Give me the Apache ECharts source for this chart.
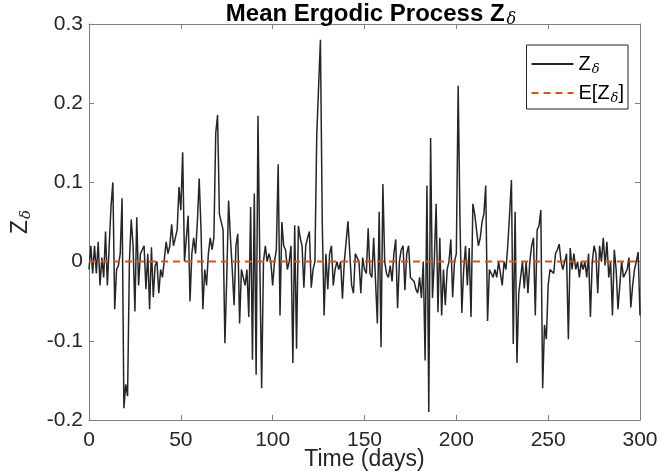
<!DOCTYPE html>
<html>
<head>
<meta charset="utf-8">
<script src="https://cdn.jsdelivr.net/npm/echarts@6/dist/echarts.min.js"></script>
<style>html,body{margin:0;padding:0;background:#fff;}#c{width:657px;height:471px;}</style>
</head>
<body>
<div id="c"></div>
<script>
const zValues = [
-0.01,0.02,-0.015,0.02,-0.015,0.025,-0.03,0.005,-0.02,0.038,
-0.03,0.02,0.07,0.1,-0.06,-0.01,-0.005,0.01,0.08,-0.185,
-0.155,-0.17,0.0,0.053,0.02,-0.063,0.056,-0.03,0.01,0.015,
0.02,-0.035,0.01,-0.06,0.018,-0.045,-0.005,0.0,-0.04,-0.01,
-0.02,-0.02,0.025,0.01,0.02,0.047,0.02,0.03,0.04,0.094,
0.065,0.138,0.0,0.03,0.058,-0.05,0.01,0.03,0.01,0.05,
0.105,0.04,-0.06,-0.01,-0.03,0.01,0.03,0.015,0.03,0.162,
0.185,0.06,0.06,0.04,-0.103,-0.02,0.077,0.03,-0.01,-0.055,
0.02,0.035,-0.078,-0.01,-0.02,-0.03,-0.01,-0.07,0.069,-0.124,
0.086,-0.143,0.184,0.0,-0.16,0.0,0.02,0.0,0.01,0.0,
-0.03,0.0,0.015,0.123,-0.068,0.05,0.02,0.015,-0.01,0.0,
0.02,-0.128,0.046,-0.11,0.045,0.03,0.02,-0.033,0.02,0.03,
0.038,-0.033,-0.01,0.0,0.16,0.22,0.28,0.05,-0.068,0.01,
-0.035,0.01,0.02,-0.03,-0.01,0.0,-0.01,0.0,-0.047,0.0,
0.025,0.051,0.01,-0.03,-0.04,0.01,0.012,0.0,-0.04,0.005,
-0.01,-0.015,0.042,-0.015,-0.02,0.03,0.03,-0.078,0.063,-0.108,
0.098,0.0,-0.015,-0.02,-0.005,-0.025,0.01,0.028,-0.059,0.0,
0.015,0.02,-0.036,0.01,0.02,-0.02,-0.02,-0.025,-0.035,-0.04,
-0.02,-0.046,0.0,-0.125,0.096,-0.19,0.156,-0.046,0.0,0.073,
-0.064,0.03,-0.068,-0.01,-0.055,-0.01,0.0,0.028,-0.045,0.0,
0.01,0.222,0.05,-0.065,-0.01,0.02,-0.03,0.017,-0.07,0.073,
0.06,0.04,0.02,0.03,0.05,0.06,0.096,-0.075,-0.01,-0.01,
-0.02,-0.01,-0.02,0.0,-0.015,-0.03,0.0,-0.01,0.02,0.06,
0.103,-0.104,0.063,-0.128,-0.04,-0.02,0.0,-0.034,0.0,-0.04,
0.0,0.02,0.03,-0.068,0.04,0.045,0.065,-0.16,-0.08,-0.098,
-0.03,-0.01,-0.01,-0.015,0.01,0.015,0.022,0.0,-0.01,0.0,
0.01,-0.098,0.017,-0.01,0.01,-0.01,0.0,-0.02,0.0,-0.01,
0.0,-0.02,0.01,-0.07,0.0,0.02,0.01,-0.04,0.02,0.0,
0.03,-0.005,0.025,-0.02,0.0,-0.068,0.015,-0.01,-0.06,-0.03,
0.0,-0.02,-0.02,-0.01,0.005,-0.058,-0.03,-0.01,0.0,0.012,
-0.068
];
const days = zValues.map((v, i) => i);
const meanDays = [0, 300];
const meanValues = [0, 0];

const textColor = '#262626';
const boxColor = '#7f7f7f';
const font = 'Liberation Sans, Arial, Helvetica, sans-serif';
const greek = 'DejaVu Serif, serif';
const chart = echarts.init(document.getElementById('c'), null, {renderer: 'canvas'});

const baseAxis = {
  axisLine: {show: true, onZero: false, lineStyle: {color: boxColor, width: 1}},
  axisTick: {show: true, inside: true, length: 5, lineStyle: {color: boxColor}},
  splitLine: {show: false},
  axisLabel: {color: textColor, fontFamily: font, fontSize: 21}
};

chart.setOption({
  animation: false,
  backgroundColor: '#fff',
  title: {
    text: '{b|Mean Ergodic Process Z}{s|δ}',
    left: 366, top: -5, textAlign: 'center',
    textStyle: {
      rich: {
        b: {fontFamily: font, fontWeight: 'bold', fontSize: 24, color: '#000', lineHeight: 25},
        s: {fontFamily: greek, fontStyle: 'italic', fontWeight: 'normal', fontSize: 16, color: '#000', padding: [12, 0, 0, 2]}
      }
    }
  },
  grid: {left: 89, right: 17, top: 24, bottom: 51, containLabel: false, outerBoundsMode: 'none'},
  legend: {
    orient: 'vertical', right: 29, top: 45,
    backgroundColor: '#fff', borderColor: textColor, borderWidth: 1, borderRadius: 0,
    padding: [9, 4, 4, 4], itemWidth: 42, itemHeight: 14, itemGap: 7,
    itemStyle: {opacity: 0},
    data: ['Z', 'E'],
    formatter: function (n) { return n === 'Z' ? '{n|Z}{s|δ}' : '{n|E[Z}{s|δ}{n|]}'; },
    textStyle: {
      rich: {
        n: {fontFamily: font, fontSize: 20, color: '#000'},
        s: {fontFamily: greek, fontStyle: 'italic', fontSize: 13, color: '#000', padding: [11, 0, 0, 1]}
      }
    }
  },
  xAxis: [
    Object.assign({}, baseAxis, {
      type: 'value', min: 0, max: 300, interval: 50, position: 'bottom',
      name: 'Time (days)', nameLocation: 'middle', nameGap: 28, nameMoveOverlap: false,
      nameTextStyle: {fontFamily: font, fontSize: 23, color: textColor, verticalAlign: 'top', lineHeight: 23},
      axisLabel: Object.assign({}, baseAxis.axisLabel, {margin: 10})
    }),
    Object.assign({}, baseAxis, {
      type: 'value', min: 0, max: 300, interval: 50, position: 'top',
      axisLabel: {show: false}
    })
  ],
  yAxis: [
    Object.assign({}, baseAxis, {
      type: 'value', min: -0.2, max: 0.3, interval: 0.1, position: 'left',
      name: '{n|Z}{s|δ}', nameLocation: 'middle', nameGap: 55, nameRotate: 90,
      nameTextStyle: {
        rich: {
          n: {fontFamily: font, fontSize: 23, color: textColor},
          s: {fontFamily: greek, fontStyle: 'italic', fontSize: 15, color: textColor, padding: [12, 0, 0, 1]}
        }
      },
      axisLabel: Object.assign({}, baseAxis.axisLabel, {margin: 6, formatter: function (v) { return String(Math.round(v * 10) / 10); }})
    }),
    Object.assign({}, baseAxis, {
      type: 'value', min: -0.2, max: 0.3, interval: 0.1, position: 'right',
      axisLabel: {show: false}
    })
  ],
  series: [
    {
      name: 'Z', type: 'line', xAxisIndex: 0, yAxisIndex: 0,
      data: days.map((d, i) => [d, zValues[i]]),
      showSymbol: false, symbol: 'none',
      lineStyle: {color: '#262626', width: 1.5},
      itemStyle: {color: '#262626'}
    },
    {
      name: 'E', type: 'line', xAxisIndex: 0, yAxisIndex: 0,
      data: meanDays.map((d, i) => [d, meanValues[i]]),
      showSymbol: false, symbol: 'none',
      lineStyle: {color: '#D95319', width: 2, type: [7, 5]},
      itemStyle: {color: '#D95319'},
      z: 3
    }
  ]
});
</script>
</body>
</html>
